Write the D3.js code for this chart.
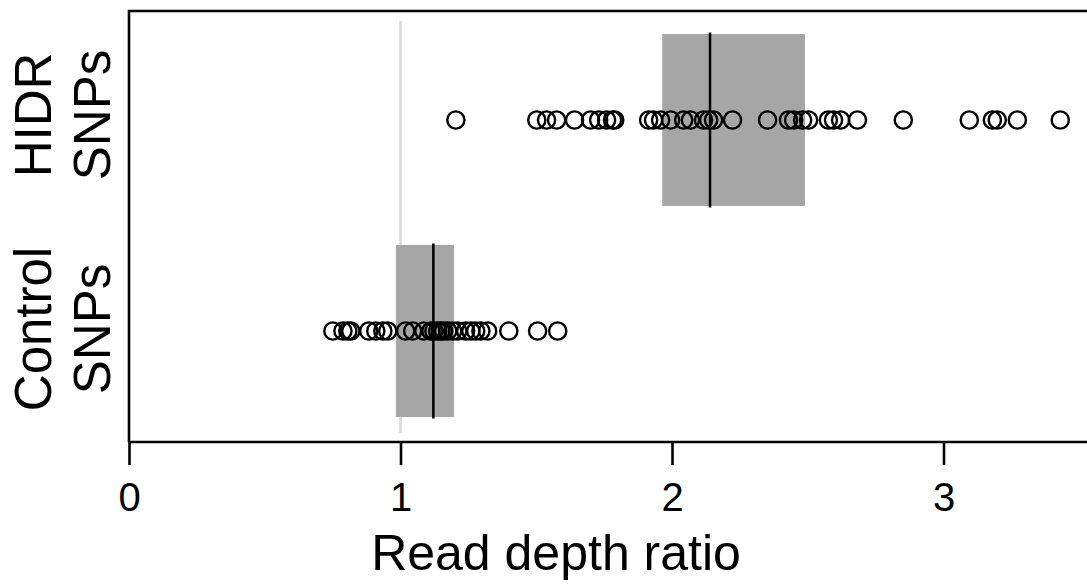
<!DOCTYPE html>
<html>
<head>
<meta charset="utf-8">
<script src="https://cdn.jsdelivr.net/npm/d3@7"></script>
<style>
  body { margin: 0; background: #fff; }
  text { font-family: "Liberation Sans", Arial, sans-serif; fill: #000; }
</style>
</head>
<body>
<div id="chart"></div>
<script>
(function () {

    // groups, top to bottom
    const groups = ['HIDR', 'Control'];
    const groupLabels = [['HIDR', 'SNPs'], ['Control', 'SNPs']];

    // read depth ratios of individual SNPs
    const hidrValues = [1.204, 1.502, 1.538, 1.575, 1.641, 1.700, 1.730, 1.759, 1.781, 1.789,
        1.914, 1.932, 1.958, 1.995, 2.043, 2.068, 2.116, 2.135, 2.153, 2.223,
        2.352, 2.429, 2.448, 2.481, 2.503, 2.576, 2.595, 2.621, 2.683, 2.852,
        3.095, 3.180, 3.198, 3.272, 3.430];
    const controlValues = [0.751, 0.788, 0.806, 0.817, 0.883, 0.909, 0.935, 0.953, 1.019, 1.045,
        1.086, 1.112, 1.123, 1.137, 1.148, 1.159, 1.174, 1.192, 1.211, 1.240,
        1.259, 1.277, 1.296, 1.321, 1.399, 1.505, 1.579];

    // box summaries (lower quartile, median, upper quartile)
    const boxLow = [1.964, 0.983];
    const boxMedian = [2.140, 1.121];
    const boxHigh = [2.490, 1.197];

    const xTicks = [0, 1, 2, 3];
    const referenceLine = 1;

    const width = 1087;
    const height = 584;
    const margin = { top: 11, right: 0, bottom: 142, left: 129 };

    const svg = d3.select('#chart')
        .append('svg')
        .attr('width', width)
        .attr('height', height);

    const x = d3.scaleLinear()
        .domain([0, 3.53])
        .range([margin.left, margin.left + 3.53 * 271.5]);

    const y = d3.scalePoint()
        .domain(groups)
        .range([120, 331]);

    const boxHalf = 86;

    // reference line at ratio 1
    svg.append('line')
        .attr('x1', x(referenceLine))
        .attr('x2', x(referenceLine))
        .attr('y1', 21)
        .attr('y2', 433)
        .attr('stroke', '#d9d9d9')
        .attr('stroke-width', 2.5);

    // boxes
    const boxes = svg.append('g')
        .selectAll('g')
        .data(groups)
        .join('g');

    boxes.append('rect')
        .attr('x', (d, i) => x(boxLow[i]))
        .attr('width', (d, i) => x(boxHigh[i]) - x(boxLow[i]))
        .attr('y', d => y(d) - boxHalf)
        .attr('height', boxHalf * 2)
        .attr('fill', '#a6a6a6');

    boxes.append('line')
        .attr('x1', (d, i) => x(boxMedian[i]))
        .attr('x2', (d, i) => x(boxMedian[i]))
        .attr('y1', d => y(d) - boxHalf - 1.5)
        .attr('y2', d => y(d) + boxHalf + 1.5)
        .attr('stroke', '#000')
        .attr('stroke-width', 2.5);

    // points
    const series = [hidrValues, controlValues];
    series.forEach((vals, i) => {
        svg.append('g')
            .selectAll('circle')
            .data(vals)
            .join('circle')
            .attr('cx', d => x(d))
            .attr('cy', y(groups[i]))
            .attr('r', 8.6)
            .attr('fill', 'none')
            .attr('stroke', '#000')
            .attr('stroke-width', 2.4);
    });

    // frame: left, top
    svg.append('path')
        .attr('d', `M${width + 5},${margin.top}H${margin.left}V${height - margin.bottom}`)
        .attr('fill', 'none')
        .attr('stroke', '#000')
        .attr('stroke-width', 2.6);

    // x axis
    const xAxis = svg.append('g')
        .attr('transform', `translate(0,${height - margin.bottom})`)
        .call(d3.axisBottom(x).tickValues(xTicks).tickFormat(d3.format('d'))
            .tickSize(23).tickPadding(18).tickSizeOuter(0));

    xAxis.select('.domain')
        .attr('d', `M${margin.left},0H${width + 5}`)
        .attr('stroke-width', 2.6);
    xAxis.selectAll('.tick line').attr('stroke-width', 2.6);
    xAxis.selectAll('.tick text')
        .style('font-size', '40px')
        .style('font-family', '"Liberation Sans", Arial, sans-serif');

    svg.append('text')
        .attr('x', 556)
        .attr('y', 570)
        .attr('text-anchor', 'middle')
        .style('font-size', '50px')
        .text('Read depth ratio');

    // y labels
    const yLabels = svg.append('g')
        .selectAll('text')
        .data(groups)
        .join('text')
        .attr('transform', (d, i) => `translate(0,${i === 0 ? 115 : 329}) rotate(-90)`)
        .attr('text-anchor', 'middle')
        .style('font-size', '51px');

    yLabels.selectAll('tspan')
        .data((d, i) => groupLabels[i])
        .join('tspan')
        .attr('x', 0)
        .attr('y', (d, j) => j === 0 ? 51 : 110)
        .text(d => d);
})();
</script>
</body>
</html>
